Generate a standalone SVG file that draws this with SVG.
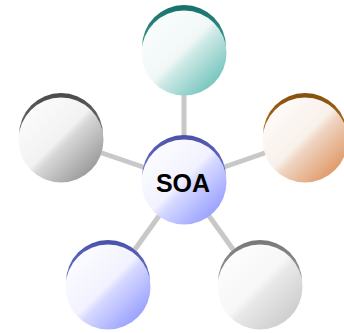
<svg xmlns="http://www.w3.org/2000/svg" width="344" height="333" viewBox="0 0 344 333">
<defs>
<linearGradient id="gTeal" x1="0" y1="0" x2="1" y2="1"><stop offset="0" stop-color="#ffffff"/><stop offset="0.48" stop-color="#f0f8f7"/><stop offset="0.55" stop-color="#cfeae7"/><stop offset="1" stop-color="#4fb5ad"/></linearGradient>
<linearGradient id="gBlue" x1="0" y1="0" x2="1" y2="1"><stop offset="0" stop-color="#ffffff"/><stop offset="0.48" stop-color="#f2f2ff"/><stop offset="0.55" stop-color="#d6d9ff"/><stop offset="1" stop-color="#7f88ff"/></linearGradient>
<linearGradient id="gGray" x1="0" y1="0" x2="1" y2="1"><stop offset="0" stop-color="#ffffff"/><stop offset="0.48" stop-color="#f2f2f2"/><stop offset="0.55" stop-color="#d6d6d6"/><stop offset="1" stop-color="#808080"/></linearGradient>
<linearGradient id="gLight" x1="0" y1="0" x2="1" y2="1"><stop offset="0" stop-color="#ffffff"/><stop offset="0.48" stop-color="#f7f7f7"/><stop offset="0.55" stop-color="#e8e8e8"/><stop offset="1" stop-color="#c2c2c2"/></linearGradient>
<linearGradient id="gOrange" x1="0" y1="0" x2="1" y2="1"><stop offset="0" stop-color="#ffffff"/><stop offset="0.48" stop-color="#f9f0ea"/><stop offset="0.55" stop-color="#efd5c3"/><stop offset="1" stop-color="#d9803f"/></linearGradient>
<linearGradient id="rTeal" x1="0" y1="0" x2="0" y2="1"><stop offset="0" stop-color="#17706a"/><stop offset="0.5" stop-color="#3a9890"/></linearGradient>
<linearGradient id="rBlue" x1="0" y1="0" x2="0" y2="1"><stop offset="0" stop-color="#4a52a8"/><stop offset="0.5" stop-color="#6a72d0"/></linearGradient>
<linearGradient id="rDark" x1="0" y1="0" x2="0" y2="1"><stop offset="0" stop-color="#4a4a4a"/><stop offset="0.5" stop-color="#707070"/></linearGradient>
<linearGradient id="rMid" x1="0" y1="0" x2="0" y2="1"><stop offset="0" stop-color="#777777"/><stop offset="0.5" stop-color="#9a9a9a"/></linearGradient>
<linearGradient id="rOrange" x1="0" y1="0" x2="0" y2="1"><stop offset="0" stop-color="#85500c"/><stop offset="0.5" stop-color="#b07020"/></linearGradient>
</defs>
<style>
.link{stroke:#c8c8c8;stroke-width:5;fill:none}
.lbl{font-family:"Liberation Sans",Arial,sans-serif;font-weight:bold;font-size:25px;fill:#000;text-anchor:middle}
</style>
<g id="connectors">
<line class="link" x1="184" y1="181" x2="184" y2="52"/>
<line class="link" x1="184" y1="181" x2="61" y2="139"/>
<line class="link" x1="184" y1="181" x2="305" y2="139"/>
<line class="link" x1="184" y1="181" x2="108" y2="287"/>
<line class="link" x1="184" y1="181" x2="260" y2="287"/>
</g>
<g id="n-top"><circle cx="184" cy="47" r="42" fill="url(#rTeal)"/><circle cx="184" cy="53" r="42.5" fill="url(#gTeal)"/></g>
<g id="n-left"><circle cx="61" cy="135" r="42" fill="url(#rDark)"/><circle cx="61" cy="140" r="42.5" fill="url(#gGray)"/></g>
<g id="n-right"><circle cx="305" cy="135" r="42" fill="url(#rOrange)"/><circle cx="305" cy="140" r="42.5" fill="url(#gOrange)"/></g>
<g id="n-bl"><circle cx="108" cy="282" r="42" fill="url(#rBlue)"/><circle cx="108" cy="287" r="42.5" fill="url(#gBlue)"/></g>
<g id="n-br"><circle cx="260" cy="282" r="42" fill="url(#rMid)"/><circle cx="260" cy="287" r="42.5" fill="url(#gLight)"/></g>
<g id="n-soa"><circle cx="184" cy="177" r="42" fill="url(#rBlue)"/><circle cx="184" cy="182" r="42.5" fill="url(#gBlue)"/><text class="lbl" x="183" y="192">SOA</text></g>
</svg>
